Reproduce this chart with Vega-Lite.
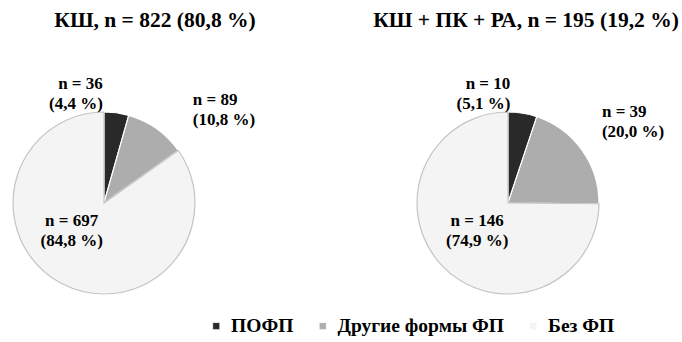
{
  "$schema": "https://vega.github.io/schema/vega-lite/v6.json",
  "padding": {"left": 0, "top": 10, "right": 0, "bottom": 0},
  "background": "white",
  "config": {
    "view": {"stroke": null},
    "font": "Liberation Serif",
    "title": {"font": "Liberation Serif", "fontWeight": "bold", "fontSize": 21.5, "color": "black"},
    "text": {"baseline": "middle", "lineBreak": "\n", "lineHeight": 20, "fontSize": 17, "fontWeight": "bold", "color": "black"}
  },
  "datasets": {
    "fp": [
      {"group": "КШ", "cat": "ПОФП", "n": 36, "pct": "4,4"},
      {"group": "КШ", "cat": "Другие формы ФП", "n": 89, "pct": "10,8"},
      {"group": "КШ", "cat": "Без ФП", "n": 697, "pct": "84,8"},
      {"group": "КШ + ПК + РА", "cat": "ПОФП", "n": 10, "pct": "5,1"},
      {"group": "КШ + ПК + РА", "cat": "Другие формы ФП", "n": 39, "pct": "20,0"},
      {"group": "КШ + ПК + РА", "cat": "Без ФП", "n": 146, "pct": "74,9"}
    ]
  },
  "data": {"name": "fp"},
  "transform": [
    {"calculate": "'n = ' + datum.n + '\\n(' + datum.pct + ' %)'", "as": "label"},
    {"joinaggregate": [{"op": "sum", "field": "n", "as": "total"}], "groupby": ["group"]},
    {"window": [{"op": "sum", "field": "n", "as": "cum"}], "groupby": ["group"], "sort": [{"field": "cat", "order": "descending"}], "frame": [null, 0]},
    {"calculate": "(datum.cum - datum.n / 2) / datum.total", "as": "mid"}
  ],
  "bounds": "flush",
  "spacing": 196,
  "resolve": {"scale": {"theta": "independent", "color": "shared"}},
  "hconcat": [
    {
      "width": 208,
      "height": 192,
      "title": {"text": "КШ, n = 822 (80,8 %)", "anchor": "middle", "dx": 51, "offset": 43.5},
      "transform": [{"filter": "datum.group === 'КШ'"}],
      "layer": [
        {
          "mark": {"type": "arc", "radius": 91, "strokeWidth": 1.2},
          "encoding": {
            "theta": {"field": "n", "type": "quantitative", "stack": "normalize"},
            "order": {"field": "cat", "type": "ordinal", "sort": "descending"},
            "color": {
              "field": "cat", "type": "nominal",
              "scale": {"domain": ["ПОФП", "Другие формы ФП", "Без ФП"], "range": ["#292929", "#adadad", "#f4f4f4"]},
              "legend": {
                "orient": "none", "legendX": 206.5, "legendY": 209, "direction": "horizontal", "title": null,
                "symbolType": "square", "symbolSize": 50, "symbolStrokeColor": "#8c8c8c", "symbolStrokeWidth": 0.7,
                "labelFont": "Liberation Serif", "labelFontWeight": "bold", "labelFontSize": 19.5, "labelColor": "black",
                "labelOffset": 5, "labelLimit": 300, "columnPadding": 19.5
              }
            },
            "stroke": {"condition": {"test": "datum.cat === 'Без ФП'", "value": "#c4c4c4"}, "value": "white"}
          }
        },
        {
          "transform": [{"filter": "datum.cat === 'ПОФП'"}],
          "mark": {"type": "text", "radius": 108, "align": "right", "dx": -16, "dy": -12},
          "encoding": {
            "theta": {"field": "mid", "type": "quantitative", "scale": {"domain": [0, 1]}},
            "text": {"field": "label"}
          }
        },
        {
          "transform": [{"filter": "datum.cat === 'Другие формы ФП'"}],
          "mark": {"type": "text", "radius": 140, "align": "left", "dx": 8, "dy": 11},
          "encoding": {
            "theta": {"field": "mid", "type": "quantitative", "scale": {"domain": [0, 1]}},
            "text": {"field": "label"}
          }
        },
        {
          "transform": [{"filter": "datum.cat === 'Без ФП'"}],
          "mark": {"type": "text", "radius": 42, "align": "center", "dx": -13, "dy": -19},
          "encoding": {
            "theta": {"field": "mid", "type": "quantitative", "scale": {"domain": [0, 1]}},
            "text": {"field": "label"}
          }
        }
      ]
    },
    {
      "width": 208,
      "height": 192,
      "title": {"text": "КШ + ПК + РА, n = 195 (19,2 %)", "anchor": "middle", "dx": 18, "offset": 43.5},
      "transform": [{"filter": "datum.group === 'КШ + ПК + РА'"}],
      "layer": [
        {
          "mark": {"type": "arc", "radius": 91, "strokeWidth": 1.2},
          "encoding": {
            "theta": {"field": "n", "type": "quantitative", "stack": "normalize"},
            "order": {"field": "cat", "type": "ordinal", "sort": "descending"},
            "color": {"field": "cat", "type": "nominal"},
            "stroke": {"condition": {"test": "datum.cat === 'Без ФП'", "value": "#c4c4c4"}, "value": "white"}
          }
        },
        {
          "transform": [{"filter": "datum.cat === 'ПОФП'"}],
          "mark": {"type": "text", "radius": 108, "align": "right", "dx": -15, "dy": -12},
          "encoding": {
            "theta": {"field": "mid", "type": "quantitative", "scale": {"domain": [0, 1]}},
            "text": {"field": "label"}
          }
        },
        {
          "transform": [{"filter": "datum.cat === 'Другие формы ФП'"}],
          "mark": {"type": "text", "radius": 140, "align": "left", "dx": -20, "dy": -10},
          "encoding": {
            "theta": {"field": "mid", "type": "quantitative", "scale": {"domain": [0, 1]}},
            "text": {"field": "label"}
          }
        },
        {
          "transform": [{"filter": "datum.cat === 'Без ФП'"}],
          "mark": {"type": "text", "radius": 42, "align": "center", "dx": -1, "dy": -12},
          "encoding": {
            "theta": {"field": "mid", "type": "quantitative", "scale": {"domain": [0, 1]}},
            "text": {"field": "label"}
          }
        }
      ]
    }
  ]
}
